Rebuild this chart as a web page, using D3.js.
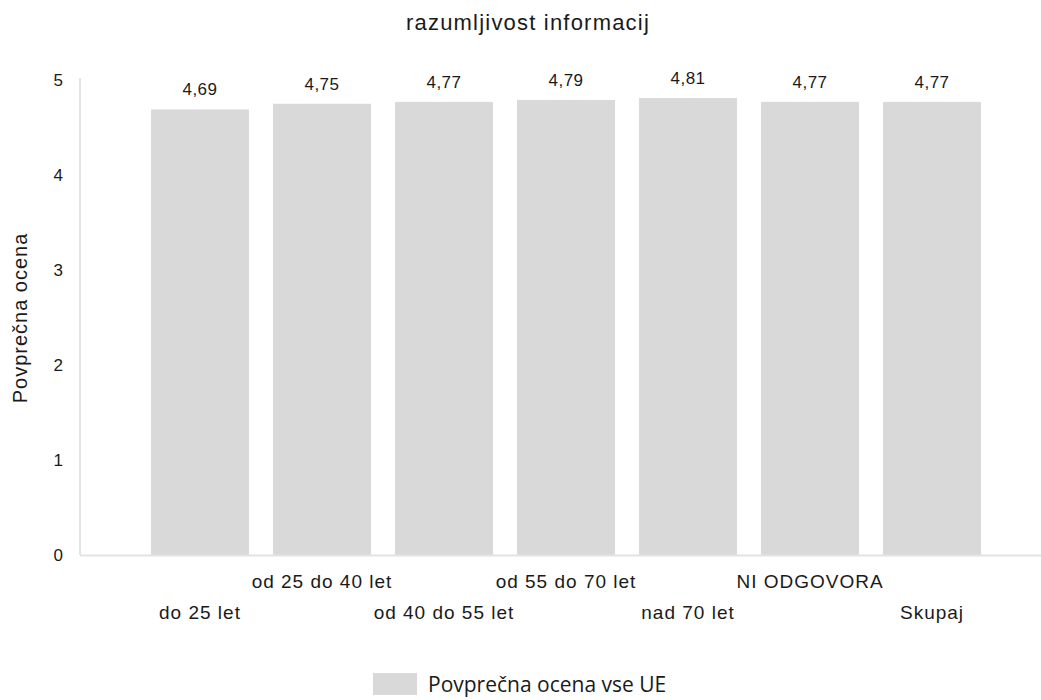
<!DOCTYPE html>
<html>
<head>
<meta charset="utf-8">
<script src="https://cdn.jsdelivr.net/npm/d3@7"></script>
<style>
  html, body { margin: 0; padding: 0; background: #fff; }
  svg text { font-family: "Liberation Sans", Arial, sans-serif; fill: #1a1a1a; }
</style>
</head>
<body>
<svg id="chart" width="1041" height="700"></svg>
<script>
const categories = ["do 25 let", "od 25 do 40 let", "od 40 do 55 let", "od 55 do 70 let", "nad 70 let", "NI ODGOVORA", "Skupaj"];
const values = [4.69, 4.75, 4.77, 4.79, 4.81, 4.77, 4.77];
const valueLabels = ["4,69", "4,75", "4,77", "4,79", "4,81", "4,77", "4,77"];
const yTicks = [0, 1, 2, 3, 4, 5];
const chartTitle = "razumljivost informacij";
const yTitle = "Povprečna ocena";
const seriesName = "Povprečna ocena vse UE";

const svg = d3.select("#chart");
const barColor = "#d9d9d9";
const axisColor = "#e3e3e3";

const x = d3.scaleBand().domain(categories).range([139, 993]).paddingInner(0.197).paddingOuter(0.0984);
const y = d3.scaleLinear().domain([0, 5]).range([555, 80]);

// title
svg.append("text").attr("x", 528).attr("y", 30).attr("text-anchor", "middle")
  .style("font-size", "22px").style("letter-spacing", "1.2px").text(chartTitle);

// y axis line
svg.append("line").attr("x1", 80).attr("x2", 80).attr("y1", y(5) - 2).attr("y2", y(0))
  .attr("stroke", axisColor).attr("stroke-width", 2);

// y tick labels
const yAxis = d3.axisLeft(y).tickValues(yTicks).tickSize(0).tickPadding(0).tickFormat(d3.format("d"));
const yg = svg.append("g").attr("transform", "translate(63,0)").call(yAxis);
yg.select(".domain").remove();
yg.selectAll("text").style("font-size", "17px").attr("fill", "#1a1a1a")
  .style("font-family", "'Liberation Sans', Arial, sans-serif");

// y axis title
svg.append("text").attr("transform", "translate(27,318) rotate(-90)").attr("text-anchor", "middle")
  .style("font-size", "20px").style("letter-spacing", "1px").text(yTitle);

// bars
svg.selectAll("rect.bar").data(values).enter().append("rect").attr("class", "bar")
  .attr("x", (d, i) => x(categories[i])).attr("width", x.bandwidth())
  .attr("y", d => y(d)).attr("height", d => y(0) - y(d)).attr("fill", barColor);

// x axis line
svg.append("line").attr("x1", 80).attr("x2", 1041).attr("y1", 555.5).attr("y2", 555.5)
  .attr("stroke", axisColor).attr("stroke-width", 2);

// value labels
svg.selectAll("text.val").data(values).enter().append("text").attr("class", "val")
  .attr("x", (d, i) => x(categories[i]) + x.bandwidth() / 2)
  .attr("y", d => y(d) - 14).attr("text-anchor", "middle")
  .style("font-size", "17px").style("letter-spacing", "0.5px")
  .text((d, i) => valueLabels[i]);

// x labels (staggered)
const xAxis = d3.axisBottom(x).tickSize(0).tickPadding(0);
const xg = svg.append("g").attr("transform", "translate(0,555)").call(xAxis);
xg.select(".domain").remove();
xg.selectAll("text").style("font-size", "19px").style("letter-spacing", "1px")
  .attr("fill", "#1a1a1a").style("font-family", "'Liberation Sans', Arial, sans-serif")
  .attr("dy", null)
  .attr("y", (d, i) => i % 2 === 0 ? 64 : 33);

// legend
const lg = svg.append("g");
lg.append("rect").attr("x", 373).attr("y", 673).attr("width", 44).attr("height", 22).attr("fill", barColor);
lg.append("text").attr("x", 428).attr("y", 692).style("font-family", "'Open Sans', sans-serif")
  .style("font-size", "21px").text(seriesName);
</script>
</body>
</html>
